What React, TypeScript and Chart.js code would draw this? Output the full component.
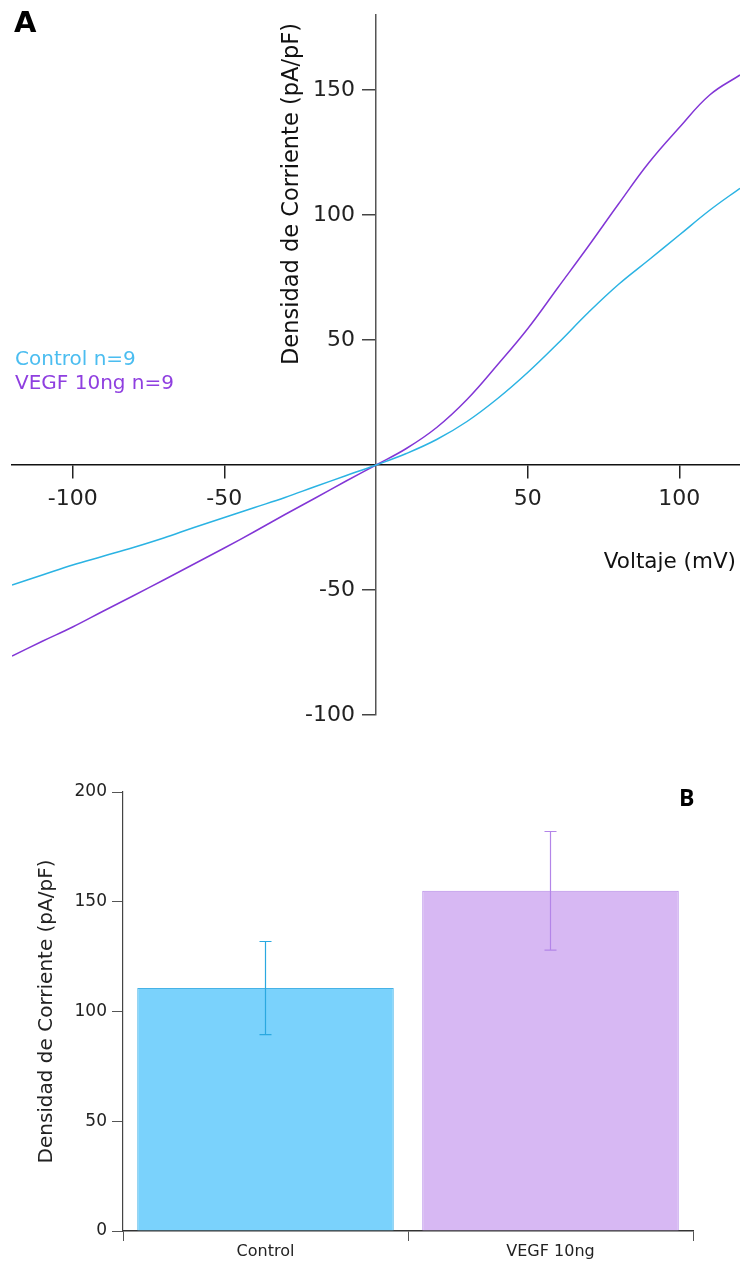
import React, { useEffect, useRef } from 'react';
import { Chart, registerables } from 'chart.js';

Chart.register(...registerables);

// ---------- Panel A data (I-V curves) ----------
const voltage = [-120, -110, -100, -90, -80, -70, -60, -50, -40, -30, -20, -10, 0, 10, 20, 30, 40, 50, 60, 70, 80, 90, 100, 110, 120];
const controlIV = [-48, -44, -40, -36.5, -33, -29.2, -25, -21, -17, -13, -8.6, -4.3, 0, 4.6, 10.2, 17.4, 26.5, 37, 48.7, 61, 72.3, 82.1, 92, 101.9, 110.7];
const vegfIV = [-76.4, -70.5, -64.8, -58.5, -52.3, -46, -39.6, -33.2, -26.6, -19.8, -13.2, -6.5, 0, 6.6, 15, 26.2, 40, 54.5, 71, 87.5, 104.5, 121, 135, 148, 156];
const xTicksA = [-100, -50, 50, 100];
const yTicksA = [-100, -50, 50, 100, 150];
const seriesLabels = ['Control n=9', 'VEGF 10ng n=9'];

// ---------- Panel B data (bars) ----------
const groups = ['Control', 'VEGF 10ng'];
const meanDensity = [110.7, 155.0];
const semDensity = [21.2, 27.0];
const yTicksB = [0, 50, 100, 150, 200];

const FONT = '"DejaVu Sans", sans-serif';
const CYAN_LINE = '#2bb3e3';
const PURPLE_LINE = '#8236d6';
const CYAN_TEXT = '#4bbdf0';
const PURPLE_TEXT = '#8f3fe0';

const panelAText = {
  id: 'panelAText',
  afterDraw(chart: any) {
    const ctx = chart.ctx;
    ctx.save();
    ctx.textBaseline = 'alphabetic';
    ctx.textAlign = 'left';
    ctx.fillStyle = '#000';
    ctx.font = `bold 29px ${FONT}`;
    ctx.fillText('A', 14, 32);
    ctx.font = `20px ${FONT}`;
    ctx.fillStyle = CYAN_TEXT;
    ctx.fillText(seriesLabels[0], 15, 365);
    ctx.fillStyle = PURPLE_TEXT;
    ctx.fillText(seriesLabels[1], 15, 389);
    ctx.fillStyle = '#111';
    ctx.font = `21.5px ${FONT}`;
    ctx.textAlign = 'right';
    ctx.fillText('Voltaje (mV)', 736, 568);
    // y title
    ctx.translate(298, 365);
    ctx.rotate(-Math.PI / 2);
    ctx.textAlign = 'left';
    ctx.font = `22.5px ${FONT}`;
    ctx.fillText('Densidad de Corriente (pA/pF)', 0, 0);
    ctx.restore();
  },
};

const panelBExtras = {
  id: 'panelBExtras',
  afterDatasetsDraw(chart: any) {
    const ctx = chart.ctx;
    const x = chart.scales.x;
    const y = chart.scales.y;
    const colors = ['#2aa8e0', '#b385e8'];
    ctx.save();
    meanDensity.forEach((m, i) => {
      const cx = x.getPixelForValue(i);
      const top = y.getPixelForValue(m + semDensity[i]);
      const bot = y.getPixelForValue(m - semDensity[i]);
      ctx.strokeStyle = colors[i];
      ctx.lineWidth = 1.2;
      ctx.beginPath();
      ctx.moveTo(cx, top);
      ctx.lineTo(cx, bot);
      ctx.moveTo(cx - 6, top);
      ctx.lineTo(cx + 6, top);
      ctx.moveTo(cx - 6, bot);
      ctx.lineTo(cx + 6, bot);
      ctx.stroke();
    });
    ctx.restore();
  },
  afterDraw(chart: any) {
    const ctx = chart.ctx;
    ctx.save();
    ctx.fillStyle = '#000';
    ctx.font = `bold 23px "Open Sans", sans-serif`;
    ctx.textAlign = 'left';
    ctx.textBaseline = 'alphabetic';
    ctx.fillText('B', 679, 66);
    ctx.restore();
  },
};

export default function App() {
  const refA = useRef<HTMLCanvasElement>(null);
  const refB = useRef<HTMLCanvasElement>(null);

  useEffect(() => {
    const chartA = new Chart(refA.current as HTMLCanvasElement, {
      type: 'line',
      data: {
        datasets: [
          {
            label: seriesLabels[0],
            data: voltage.map((v, i) => ({ x: v, y: controlIV[i] })),
            borderColor: CYAN_LINE,
            borderWidth: 1.5,
            pointRadius: 0,
            tension: 0.4,
          },
          {
            label: seriesLabels[1],
            data: voltage.map((v, i) => ({ x: v, y: vegfIV[i] })),
            borderColor: PURPLE_LINE,
            borderWidth: 1.5,
            pointRadius: 0,
            tension: 0.4,
          },
        ],
      },
      options: {
        animation: false,
        responsive: false,
        devicePixelRatio: 1,
        layout: { padding: { left: 12, right: 0, top: 15, bottom: 25 } },
        plugins: { legend: { display: false }, tooltip: { enabled: false } },
        scales: {
          x: {
            type: 'linear',
            min: -120,
            max: 120,
            position: { y: 0 } as any,
            afterFit: (s: any) => { s.height = 0; s.paddingLeft = 0; s.paddingRight = 0; s.paddingTop = 0; s.paddingBottom = 0; },
            afterBuildTicks: (s: any) => { s.ticks = xTicksA.map((v) => ({ value: v })); },
            grid: { drawOnChartArea: false, drawTicks: true, tickLength: 13, color: '#222', lineWidth: 1.5 },
            border: { display: true, color: '#111', width: 1.5 },
            ticks: { font: { family: FONT, size: 22 }, color: '#222', padding: 8, maxRotation: 0, autoSkip: false },
          },
          y: {
            type: 'linear',
            min: -100,
            max: 180,
            position: 'center',
            afterFit: (s: any) => { s.width = 0; s.paddingLeft = 0; s.paddingRight = 0; s.paddingTop = 0; s.paddingBottom = 0; },
            afterBuildTicks: (s: any) => { s.ticks = yTicksA.map((v) => ({ value: v })); },
            grid: { drawOnChartArea: false, drawTicks: true, tickLength: 13, color: '#444', lineWidth: 1.5 },
            border: { display: true, color: '#555', width: 1.5 },
            ticks: { font: { family: FONT, size: 22 }, color: '#222', padding: 8, autoSkip: false },
          },
        },
      },
      plugins: [panelAText],
    } as any);

    const chartB = new Chart(refB.current as HTMLCanvasElement, {
      type: 'bar',
      data: {
        labels: groups,
        datasets: [
          {
            data: meanDensity,
            backgroundColor: ['#7ad2fc', '#d7b8f3'],
            borderColor: ['#47b2e6', '#b58ae8'],
            borderWidth: 1,
            barPercentage: 0.9,
            categoryPercentage: 1,
          },
        ],
      },
      options: {
        animation: false,
        responsive: false,
        devicePixelRatio: 1,
        layout: { padding: { left: 0, right: 47, top: 52, bottom: 0 } },
        plugins: { legend: { display: false }, tooltip: { enabled: false } },
        scales: {
          x: {
            afterFit: (s: any) => { s.height = 32; },
            grid: { display: true, offset: true, drawOnChartArea: false, drawTicks: true, tickLength: 10, color: '#555', lineWidth: 1 },
            border: { display: true, color: '#333', width: 1.5 },
            ticks: { font: { family: FONT, size: 16 }, color: '#222', padding: 1, maxRotation: 0 },
          },
          y: {
            min: 0,
            max: 200,
            afterFit: (s: any) => { s.width = 123; },
            afterBuildTicks: (s: any) => { s.ticks = yTicksB.map((v) => ({ value: v })); },
            grid: { drawOnChartArea: false, drawTicks: true, tickLength: 11, color: '#555', lineWidth: 1 },
            border: { display: true, color: '#444', width: 1.2 },
            ticks: { font: { family: FONT, size: 17 }, color: '#222', padding: 5 },
            title: {
              display: true,
              text: 'Densidad de Corriente (pA/pF)',
              font: { family: FONT, size: 20, lineHeight: 1.2 },
              color: '#222',
              padding: { top: 35, bottom: 0 },
            },
          },
        },
      },
      plugins: [panelBExtras],
    } as any);

    return () => {
      chartA.destroy();
      chartB.destroy();
    };
  }, []);

  return (
    <div style={{ position: 'absolute', left: 0, top: 0, width: 740, height: 1263, background: '#fff' }}>
      <div style={{ position: 'absolute', left: 0, top: 0, width: 740, height: 740 }}>
        <canvas ref={refA} width={740} height={740} style={{ display: 'block', width: 740, height: 740 }} />
      </div>
      <div style={{ position: 'absolute', left: 0, top: 740, width: 740, height: 523 }}>
        <canvas ref={refB} width={740} height={523} style={{ display: 'block', width: 740, height: 523 }} />
      </div>
    </div>
  );
}
